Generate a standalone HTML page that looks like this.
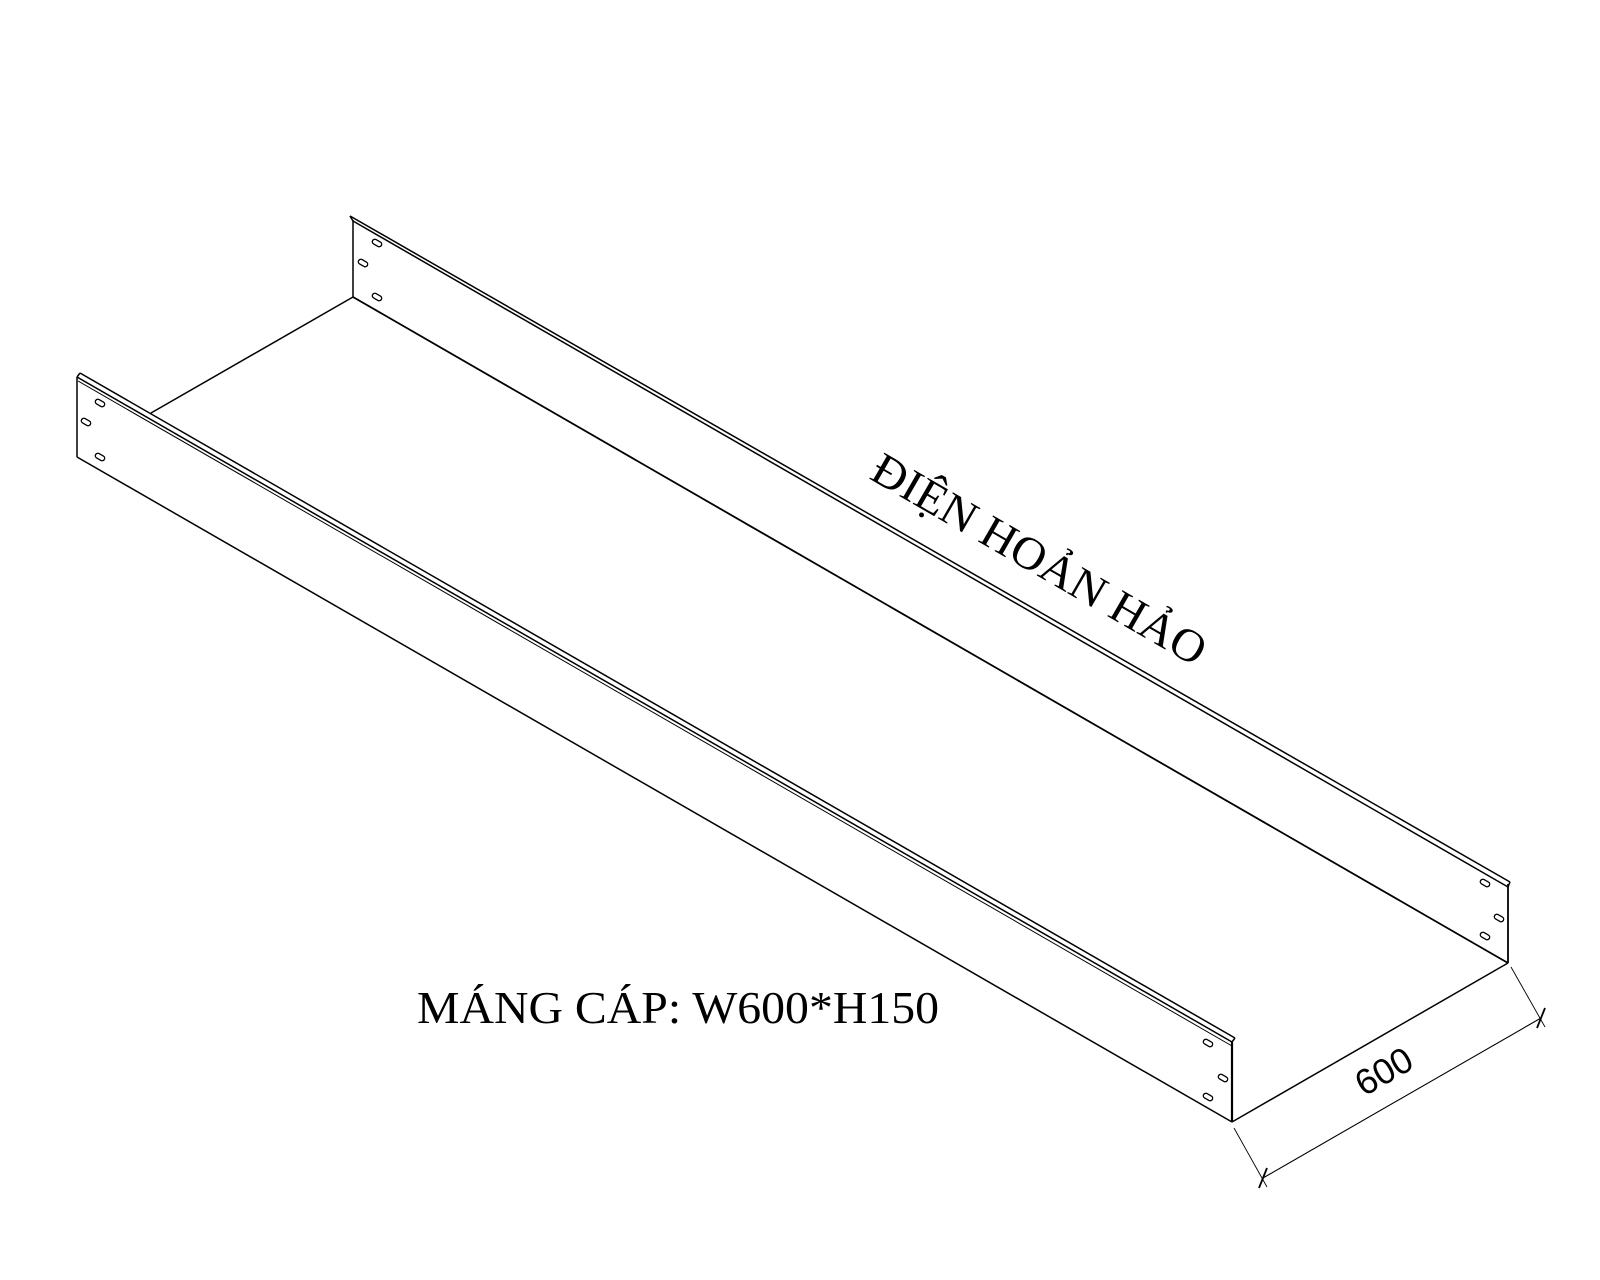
<!DOCTYPE html>
<html><head><meta charset="utf-8"><style>html,body{margin:0;padding:0;background:#fff}svg{display:block}</style></head>
<body>
<svg width="1600" height="1280" viewBox="0 0 1600 1280" xmlns="http://www.w3.org/2000/svg">
<g stroke="#000" fill="none" stroke-width="1.5">
<!-- left front panel -->
<line x1="77" y1="377" x2="77" y2="457"/>
<line x1="77" y1="457" x2="1232" y2="1122"/>
<line x1="77" y1="377" x2="1232" y2="1042"/>
<line x1="80" y1="373" x2="1235" y2="1038"/>
<line x1="78" y1="381" x2="1232" y2="1046" stroke-width="1"/>
<line x1="77" y1="377" x2="80" y2="373"/>
<line x1="1232" y1="1042" x2="1235" y2="1038"/>
<line x1="1232" y1="1042" x2="1232" y2="1122" stroke-width="2.2"/>
<!-- back panel -->
<line x1="353" y1="220" x2="353" y2="297"/>
<line x1="353" y1="297" x2="1508" y2="963" stroke-width="1.8"/>
<line x1="353" y1="221" x2="1508" y2="887"/>
<line x1="350" y1="216" x2="1510" y2="882"/>
<line x1="350" y1="216" x2="353" y2="221"/>
<line x1="1508" y1="887" x2="1510" y2="882"/>
<line x1="1508" y1="884" x2="1508" y2="963" stroke-width="1.8"/>
<!-- floor edges -->
<line x1="353" y1="297" x2="151" y2="413"/>
<line x1="1232" y1="1122" x2="1508" y2="963"/>
<!-- dimension -->
<line x1="1234" y1="1128" x2="1267" y2="1187" stroke-width="0.9"/>
<line x1="1511" y1="967" x2="1545" y2="1027" stroke-width="0.9"/>
<line x1="1263" y1="1178" x2="1541" y2="1018" stroke-width="1.1"/>
<line x1="1259" y1="1188" x2="1267" y2="1168" stroke-width="1.8"/>
<line x1="1537" y1="1028" x2="1545" y2="1008" stroke-width="1.8"/>
</g>
<g stroke="#000" fill="none" stroke-width="1.3">
<g transform="translate(100,403) rotate(30)"><rect x="-5" y="-2.5" width="10" height="5" rx="2.5"/></g>
<g transform="translate(86,422) rotate(30)"><rect x="-5" y="-2.5" width="10" height="5" rx="2.5"/></g>
<g transform="translate(100,457) rotate(30)"><rect x="-5" y="-2.5" width="10" height="5" rx="2.5"/></g>
<g transform="translate(377,243) rotate(30)"><rect x="-5" y="-2.5" width="10" height="5" rx="2.5"/></g>
<g transform="translate(363,263) rotate(30)"><rect x="-5" y="-2.5" width="10" height="5" rx="2.5"/></g>
<g transform="translate(377,297) rotate(30)"><rect x="-5" y="-2.5" width="10" height="5" rx="2.5"/></g>
<g transform="translate(1208,1043) rotate(30)"><rect x="-5" y="-2.5" width="10" height="5" rx="2.5"/></g>
<g transform="translate(1223,1078) rotate(30)"><rect x="-5" y="-2.5" width="10" height="5" rx="2.5"/></g>
<g transform="translate(1208,1097) rotate(30)"><rect x="-5" y="-2.5" width="10" height="5" rx="2.5"/></g>
<g transform="translate(1485,883) rotate(30)"><rect x="-5" y="-2.5" width="10" height="5" rx="2.5"/></g>
<g transform="translate(1499,918) rotate(30)"><rect x="-5" y="-2.5" width="10" height="5" rx="2.5"/></g>
<g transform="translate(1485,936) rotate(30)"><rect x="-5" y="-2.5" width="10" height="5" rx="2.5"/></g>
</g>
<text x="417" y="1023" font-family="Liberation Serif, serif" font-size="46" textLength="522" lengthAdjust="spacingAndGlyphs">MÁNG CÁP: W600*H150</text>
<text transform="translate(868,478) rotate(30)" font-family="Liberation Serif, serif" font-size="46" textLength="378" lengthAdjust="spacingAndGlyphs">ĐIỆN HOẢN HẢO</text>
<text transform="translate(1390,1082) rotate(-30)" text-anchor="middle" font-family="Liberation Sans, sans-serif" font-size="36">600</text>
</svg>
</body></html>
